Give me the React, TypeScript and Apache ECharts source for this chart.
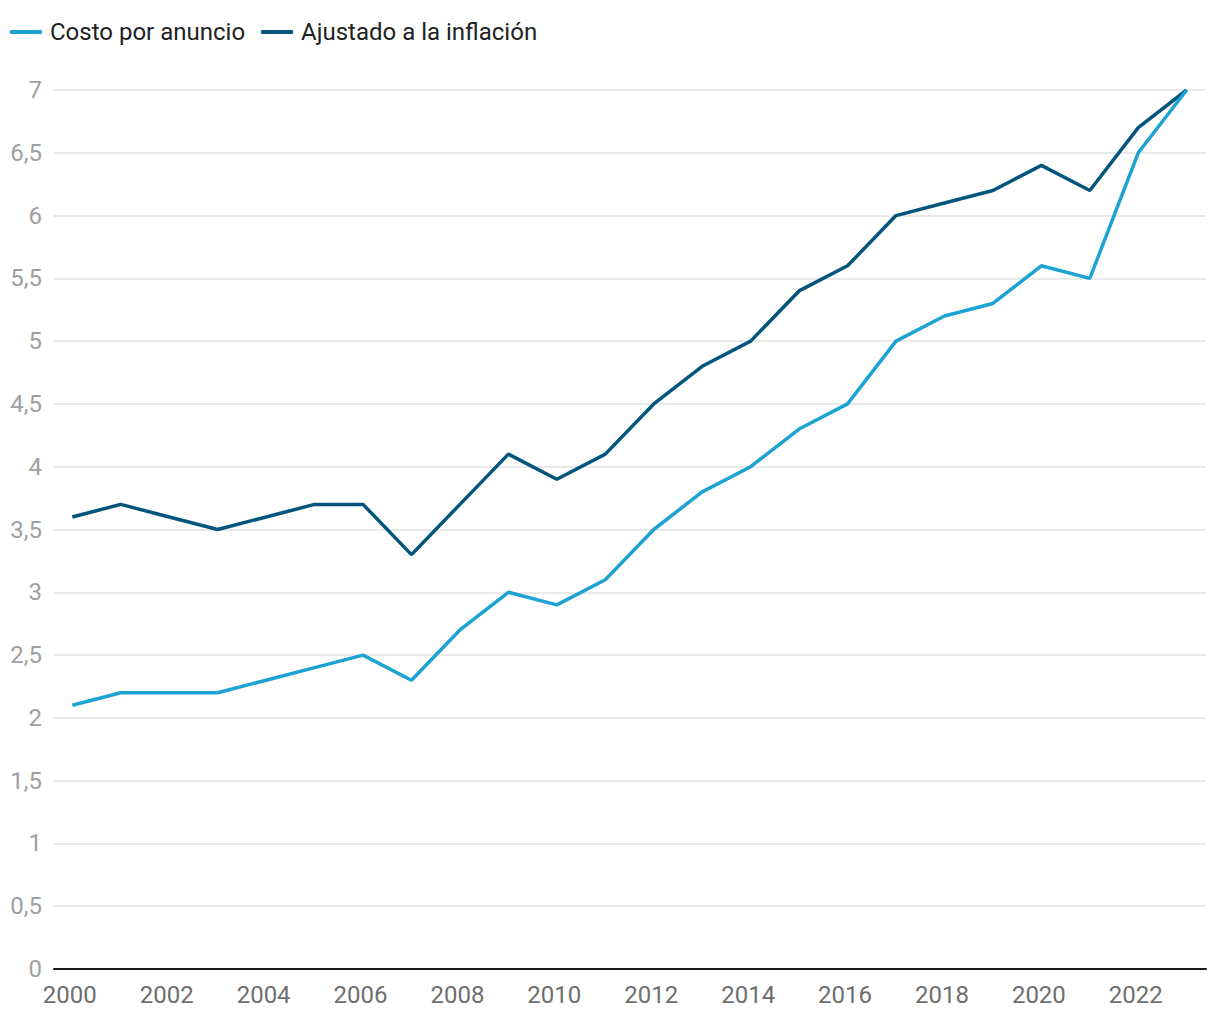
import React, { useEffect, useRef } from "react";
import * as echarts from "echarts";

const years = [2000, 2001, 2002, 2003, 2004, 2005, 2006, 2007, 2008, 2009, 2010, 2011, 2012, 2013, 2014, 2015, 2016, 2017, 2018, 2019, 2020, 2021, 2022, 2023];
const costoPorAnuncio = [2.1, 2.2, 2.2, 2.2, 2.3, 2.4, 2.5, 2.3, 2.7, 3.0, 2.9, 3.1, 3.5, 3.8, 4.0, 4.3, 4.5, 5.0, 5.2, 5.3, 5.6, 5.5, 6.5, 7.0];
const ajustadoInflacion = [3.6, 3.7, 3.6, 3.5, 3.6, 3.7, 3.7, 3.3, 3.7, 4.1, 3.9, 4.1, 4.5, 4.8, 5.0, 5.4, 5.6, 6.0, 6.1, 6.2, 6.4, 6.2, 6.7, 7.0];
const xTickLabels = [2000, 2002, 2004, 2006, 2008, 2010, 2012, 2014, 2016, 2018, 2020, 2022];
const seriesNames = ["Costo por anuncio", "Ajustado a la inflación"];
const colors = ["#1ca3d3", "#04557c"];

export default function App() {
  const ref = useRef<HTMLDivElement>(null);
  useEffect(() => {
    const chart = echarts.init(ref.current!, null, { renderer: "svg" });
    const font = "Roboto, sans-serif";
    chart.setOption({
      animation: false,
      color: colors,
      textStyle: { fontFamily: font },
      legend: {
        left: 10,
        top: 20,
        padding: 0,
        icon: "roundRect",
        itemWidth: 32,
        itemHeight: 4,
        itemGap: 16,
        textStyle: { fontSize: 24, color: "#222", fontFamily: font, padding: [0, 0, 0, 3] },
        data: seriesNames,
      },
      grid: { left: 54, right: 14, top: 90, bottom: 51, containLabel: false },
      xAxis: {
        type: "value",
        min: 1999.622,
        max: 2023.398,
        splitLine: { show: false },
        axisTick: { show: false },
        axisLine: { show: true, onZero: false, lineStyle: { color: "#1a1a1a", width: 2 } },
        axisLabel: {
          customValues: xTickLabels,
          formatter: (v: number) => String(v),
          fontSize: 24,
          color: "#6e6e6e",
          fontFamily: font,
          margin: 14,
          padding: [0, 5, 0, 0],
        },
      },
      yAxis: {
        type: "value",
        min: 0,
        max: 7,
        interval: 0.5,
        axisLine: { show: false },
        axisTick: { show: false },
        splitLine: { lineStyle: { color: "#e2e2e2", width: 1.5 } },
        axisLabel: {
          fontSize: 24,
          color: "#a0a0a0",
          fontFamily: font,
          margin: 12,
          formatter: (v: number) => String(v).replace(".", ","),
        },
      },
      series: [
        {
          name: seriesNames[0],
          type: "line",
          data: years.map((y, i) => [y, costoPorAnuncio[i]]),
          showSymbol: false,
          lineStyle: { width: 3.5, color: colors[0] },
          z: 3,
        },
        {
          name: seriesNames[1],
          type: "line",
          data: years.map((y, i) => [y, ajustadoInflacion[i]]),
          showSymbol: false,
          lineStyle: { width: 3.5, color: colors[1] },
          z: 2,
        },
      ],
    });
    return () => chart.dispose();
  }, []);
  return <div ref={ref} style={{ position: "absolute", left: 0, top: 0, width: 1220, height: 1020 }} />;
}
